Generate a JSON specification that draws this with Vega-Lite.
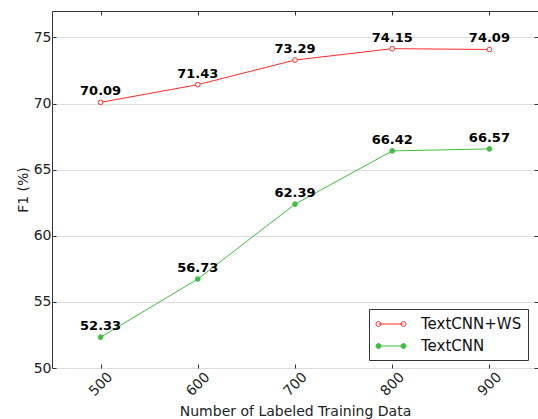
{
  "$schema": "https://vega.github.io/schema/vega-lite/v6.json",
  "width": 486,
  "height": 357,
  "autosize": {"type": "none"},
  "padding": {"left": 52, "top": 11, "right": 0, "bottom": 51},
  "background": "white",
  "config": {
    "font": "DejaVu Sans",
    "view": {"stroke": "#333333", "strokeWidth": 1}
  },
  "data": {
    "values": [
      {"n": 500, "f1": 70.09, "series": "TextCNN+WS"},
      {"n": 600, "f1": 71.43, "series": "TextCNN+WS"},
      {"n": 700, "f1": 73.29, "series": "TextCNN+WS"},
      {"n": 800, "f1": 74.15, "series": "TextCNN+WS"},
      {"n": 900, "f1": 74.09, "series": "TextCNN+WS"},
      {"n": 500, "f1": 52.33, "series": "TextCNN"},
      {"n": 600, "f1": 56.73, "series": "TextCNN"},
      {"n": 700, "f1": 62.39, "series": "TextCNN"},
      {"n": 800, "f1": 66.42, "series": "TextCNN"},
      {"n": 900, "f1": 66.57, "series": "TextCNN"}
    ]
  },
  "resolve": {"axis": {"x": "independent", "y": "independent"}},
  "layer": [
    {
      "mark": {"type": "line", "strokeWidth": 1},
      "encoding": {
        "x": {
          "field": "n", "type": "quantitative",
          "scale": {"domain": [450, 950], "nice": false, "zero": false},
          "axis": {
            "values": [500, 600, 700, 800, 900],
            "title": "Number of Labeled Training Data",
            "titleFontSize": 14, "titleFontWeight": "normal", "titleColor": "#222222",
            "titlePadding": 6,
            "labelAngle": -45, "labelAlign": "center", "labelBaseline": "middle",
            "labelFontSize": 14, "labelColor": "#222222", "labelPadding": 20,
            "tickSize": -4, "tickColor": "#333333", "domain": false, "grid": false
          }
        },
        "y": {
          "field": "f1", "type": "quantitative",
          "scale": {"domain": [50, 77], "nice": false, "zero": false},
          "axis": {
            "values": [50, 55, 60, 65, 70, 75],
            "title": "F1 (%)",
            "titleFontSize": 14, "titleFontWeight": "normal", "titleColor": "#222222",
            "titlePadding": 3,
            "labelFontSize": 14, "labelColor": "#222222", "labelPadding": 5,
            "tickSize": -4, "tickColor": "#333333", "domain": false,
            "grid": true, "gridColor": "#dddddd", "gridWidth": 1
          }
        },
        "stroke": {
          "field": "series", "type": "nominal",
          "scale": {"domain": ["TextCNN+WS", "TextCNN"], "range": ["#ff2a2a", "#3fbf3f"]}
        }
      }
    },
    {
      "mark": {"type": "point", "filled": true, "size": 22, "strokeWidth": 1, "opacity": 1},
      "encoding": {
        "x": {"field": "n", "type": "quantitative", "axis": null},
        "y": {"field": "f1", "type": "quantitative", "axis": null},
        "stroke": {
          "field": "series", "type": "nominal",
          "scale": {"domain": ["TextCNN+WS", "TextCNN"], "range": ["#ff2a2a", "#3fbf3f"]},
          "legend": {
            "title": null,
            "orient": "none", "legendX": 317, "legendY": 298,
            "symbolType": "M-0.65,0L2.29,0M-0.36,0A0.29,0.29,0,1,1,-0.94,0A0.29,0.29,0,1,1,-0.36,0M2.58,0A0.29,0.29,0,1,1,2,0A0.29,0.29,0,1,1,2.58,0",
            "symbolSize": 289, "symbolStrokeWidth": 1,
            "labelFontSize": 15, "labelColor": "#111111", "labelOffset": 28,
            "rowPadding": 5,
            "padding": 6,
            "strokeColor": "#333333", "fillColor": "white"
          }
        },
        "fill": {
          "field": "series", "type": "nominal",
          "scale": {"domain": ["TextCNN+WS", "TextCNN"], "range": ["white", "#3fbf3f"]},
          "legend": {
            "title": null,
            "orient": "none", "legendX": 317, "legendY": 298,
            "symbolType": "M-0.65,0L2.29,0M-0.36,0A0.29,0.29,0,1,1,-0.94,0A0.29,0.29,0,1,1,-0.36,0M2.58,0A0.29,0.29,0,1,1,2,0A0.29,0.29,0,1,1,2.58,0",
            "symbolSize": 289, "symbolStrokeWidth": 1,
            "labelFontSize": 15, "labelColor": "#111111", "labelOffset": 28,
            "rowPadding": 5,
            "padding": 6,
            "strokeColor": "#333333", "fillColor": "white"
          }
        }
      }
    },
    {
      "mark": {"type": "text", "fontWeight": "bold", "fontSize": 13, "baseline": "alphabetic", "dy": -7, "color": "black"},
      "encoding": {
        "x": {"field": "n", "type": "quantitative", "axis": null},
        "y": {"field": "f1", "type": "quantitative", "axis": null},
        "text": {"field": "f1", "type": "quantitative", "format": ".2f"}
      }
    },
    {
      "mark": {"type": "point", "opacity": 0},
      "encoding": {
        "x": {
          "field": "n", "type": "quantitative",
          "axis": {"orient": "top", "values": [500, 600, 700, 800, 900], "labels": false, "title": null, "domain": false, "grid": false, "tickSize": -4, "tickColor": "#333333"}
        },
        "y": {
          "field": "f1", "type": "quantitative",
          "axis": {"orient": "right", "values": [50, 55, 60, 65, 70, 75], "labels": false, "title": null, "domain": false, "grid": false, "tickSize": -4, "tickColor": "#333333"}
        }
      }
    }
  ]
}
